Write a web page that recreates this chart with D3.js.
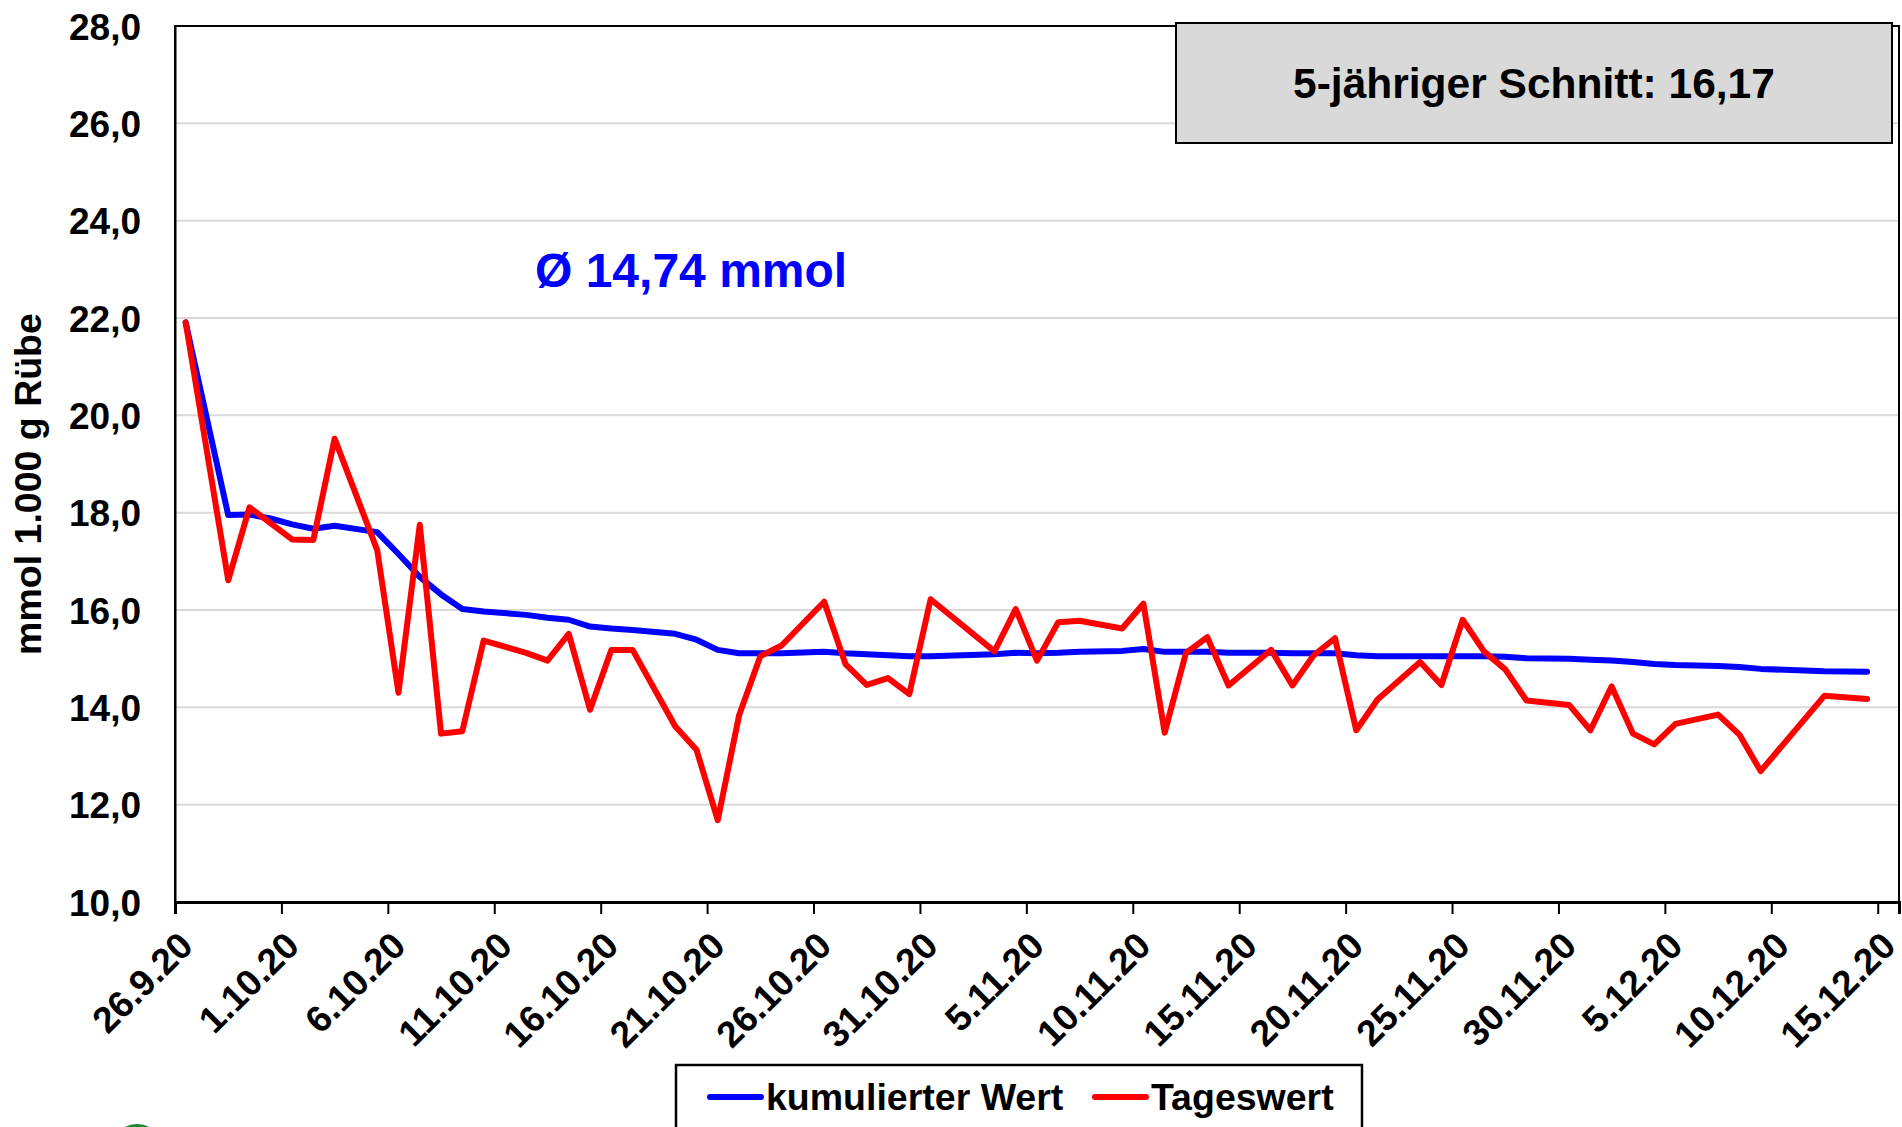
<!DOCTYPE html>
<html>
<head>
<meta charset="utf-8">
<script src="https://cdn.jsdelivr.net/npm/d3@7"></script>
<style>
  html, body { margin: 0; padding: 0; background: #fff; }
  svg { display: block; font-family: "Liberation Sans", Arial, sans-serif; font-weight: bold; }
</style>
</head>
<body>
<svg id="chart" width="1902" height="1127"></svg>
<script>
// ---- data ----
const dates = [
  "26.9.20","28.9.20","29.9.20","30.9.20","1.10.20","2.10.20","3.10.20","5.10.20","6.10.20","7.10.20",
  "8.10.20","9.10.20","10.10.20","12.10.20","13.10.20","14.10.20","15.10.20","16.10.20","17.10.20","19.10.20",
  "20.10.20","21.10.20","22.10.20","23.10.20","24.10.20","26.10.20","27.10.20","28.10.20","29.10.20","30.10.20",
  "31.10.20","3.11.20","4.11.20","5.11.20","6.11.20","7.11.20","9.11.20","10.11.20","11.11.20","12.11.20",
  "13.11.20","14.11.20","16.11.20","17.11.20","18.11.20","19.11.20","20.11.20","21.11.20","23.11.20","24.11.20",
  "25.11.20","26.11.20","27.11.20","28.11.20","30.11.20","1.12.20","2.12.20","3.12.20","4.12.20","5.12.20",
  "7.12.20","8.12.20","9.12.20","12.12.20","14.12.20"
];
const tageswert = [
  21.91,16.61,18.11,17.78,17.45,17.44,19.52,17.23,14.30,17.75,
  13.46,13.51,15.37,15.12,14.96,15.51,13.95,15.18,15.18,13.61,
  13.13,11.68,13.83,15.05,15.27,16.17,14.89,14.46,14.60,14.27,
  16.22,15.15,16.02,14.96,15.75,15.78,15.62,16.13,13.48,15.12,
  15.44,14.45,15.18,14.45,15.07,15.42,13.53,14.16,14.93,14.46,
  15.80,15.15,14.78,14.14,14.05,13.53,14.43,13.46,13.24,13.66,
  13.85,13.44,12.69,14.24,14.17
];
const kumuliert = [
  21.91,17.95,17.96,17.88,17.76,17.67,17.73,17.60,17.15,16.68,
  16.32,16.02,15.97,15.90,15.84,15.80,15.66,15.62,15.59,15.51,
  15.39,15.18,15.11,15.11,15.11,15.14,15.11,15.09,15.07,15.05,
  15.05,15.09,15.12,15.11,15.12,15.14,15.16,15.20,15.14,15.14,
  15.14,15.12,15.12,15.11,15.11,15.11,15.07,15.05,15.05,15.05,
  15.05,15.05,15.04,15.01,15.00,14.98,14.96,14.93,14.89,14.87,
  14.85,14.83,14.79,14.74,14.73
];
const xTickLabels = ["26.9.20","1.10.20","6.10.20","11.10.20","16.10.20","21.10.20","26.10.20","31.10.20",
  "5.11.20","10.11.20","15.11.20","20.11.20","25.11.20","30.11.20","5.12.20","10.12.20","15.12.20"];
const yTicks = [10, 12, 14, 16, 18, 20, 22, 24, 26, 28];
const seriesNames = ["kumulierter Wert", "Tageswert"];
const seriesColors = ["#0000ff", "#ff0000"];
const avgLabel = "Ø 14,74 mmol";
const boxLabel = "5-jähriger Schnitt: 16,17";
const yTitle = "mmol 1.000 g Rübe";

// ---- helpers ----
const parseD = s => { const [d, m, yy] = s.split(".").map(Number); return new Date(Date.UTC(2000 + yy, m - 1, d)); };
const DAY = 86400000;

const svg = d3.select("#chart");
const pLeft = 175, pRight = 1899, pTop = 26, pBottom = 902;

const x = d3.scaleUtc()
  .domain([parseD("26.9.20"), new Date(parseD("15.12.20").getTime() + DAY)])
  .range([pLeft, pRight]);
const y = d3.scaleLinear().domain([10, 28]).range([pBottom, pTop]);

const mid = s => new Date(parseD(s).getTime() + DAY / 2);

// gridlines
svg.append("g")
  .selectAll("line").data(yTicks.filter(v => v > 10 && v < 28)).join("line")
  .attr("x1", pLeft).attr("x2", pRight)
  .attr("y1", d => y(d)).attr("y2", d => y(d))
  .attr("stroke", "#d9d9d9").attr("stroke-width", 2);

// plot border
svg.append("rect")
  .attr("x", pLeft).attr("y", pTop).attr("width", pRight - pLeft).attr("height", pBottom - pTop)
  .attr("fill", "none").attr("stroke", "#000").attr("stroke-width", 2);

// y axis
const yAxis = d3.axisLeft(y).tickValues(yTicks).tickSize(0).tickPadding(34)
  .tickFormat(d => d3.format(".1f")(d).replace(".", ","));
const gy = svg.append("g").attr("transform", `translate(${pLeft},0)`).call(yAxis);
gy.select(".domain").attr("stroke", "#000").attr("stroke-width", 2);
gy.selectAll("text").attr("font-size", 37).attr("font-weight", "bold").attr("fill", "#000")
  .attr("font-family", "Liberation Sans, Arial, sans-serif").attr("dy", "0.36em");

// x axis
const xAxis = d3.axisBottom(x).tickValues(xTickLabels.map(parseD)).tickSize(12).tickFormat("");
const gx = svg.append("g").attr("transform", `translate(0,${pBottom})`).call(xAxis);
gx.select(".domain").attr("stroke", "#000").attr("stroke-width", 3);
gx.selectAll(".tick line").attr("stroke", "#000").attr("stroke-width", 2);

svg.append("g").selectAll("text").data(xTickLabels).join("text")
  .attr("transform", d => `translate(${x(parseD(d)) + 20},${pBottom + 46}) rotate(-45)`)
  .attr("text-anchor", "end")
  .attr("font-size", 37).attr("fill", "#000")
  .text(d => d);

// y title
svg.append("text")
  .attr("transform", `translate(41,484) rotate(-90)`)
  .attr("text-anchor", "middle").attr("font-size", 37.5).attr("fill", "#000")
  .text(yTitle);

// lines
const line = d3.line().x(d => x(mid(d[0]))).y(d => y(d[1]));
const seriesData = [kumuliert, tageswert];
seriesData.forEach((vals, i) => {
  svg.append("path")
    .datum(dates.map((d, j) => [d, vals[j]]))
    .attr("d", line)
    .attr("fill", "none").attr("stroke", seriesColors[i]).attr("stroke-width", 6)
    .attr("stroke-linejoin", "round").attr("stroke-linecap", "round");
});

// average label
svg.append("text").attr("x", 535).attr("y", 287)
  .attr("font-size", 48).attr("fill", "#0000ff").text(avgLabel);

// 5-year box
svg.append("rect").attr("x", 1176).attr("y", 23).attr("width", 716).attr("height", 120)
  .attr("fill", "#d9d9d9").attr("stroke", "#000").attr("stroke-width", 2);
svg.append("text").attr("x", 1534).attr("y", 98).attr("text-anchor", "middle")
  .attr("font-size", 42.5).attr("fill", "#000").text(boxLabel);

// legend
const lg = svg.append("g");
lg.append("rect").attr("x", 676).attr("y", 1065).attr("width", 686).attr("height", 90)
  .attr("fill", "#fff").attr("stroke", "#000").attr("stroke-width", 2.5);
const legendX = [710, 1095];
seriesNames.forEach((n, i) => {
  lg.append("line").attr("x1", legendX[i]).attr("x2", legendX[i] + 51)
    .attr("y1", 1097).attr("y2", 1097)
    .attr("stroke", seriesColors[i]).attr("stroke-width", 6).attr("stroke-linecap", "round");
  lg.append("text").attr("x", legendX[i] + 56).attr("y", 1110)
    .attr("font-size", 37.5).attr("fill", "#000").text(n);
});

// partial green logo at the bottom edge
svg.append("circle").attr("cx", 137).attr("cy", 1150).attr("r", 24)
  .attr("fill", "none").attr("stroke", "#1a8a3a").attr("stroke-width", 4);
</script>
</body>
</html>
